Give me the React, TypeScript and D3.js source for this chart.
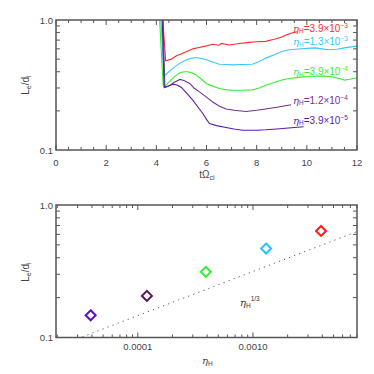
import React from "react";
import * as d3 from "d3";

// ---------- data ----------
const seriesNames = ["3.9×10", "1.3×10", "3.9×10", "1.2×10", "3.9×10"];
const seriesExp = ["−3", "−3", "−4", "−4", "−5"];
const seriesColors = ["#ff2a2a", "#33c8ff", "#33f033", "#74308e", "#5a1cb0"];
const diamondColors = ["#ff1a1a", "#22c4ff", "#30ee30", "#581458", "#5a10c0"];

const redT = [4.22, 4.37, 4.6, 4.8, 5.1, 5.46, 5.7, 5.92, 6.25, 6.5, 6.6, 6.9, 7.3, 7.7, 8.0, 8.36, 8.7, 9.0, 9.2, 9.4, 9.6];
const redL = [1.3, 0.485, 0.5, 0.53, 0.56, 0.6, 0.615, 0.627, 0.65, 0.64, 0.66, 0.643, 0.66, 0.673, 0.68, 0.685, 0.71, 0.74, 0.77, 0.795, 0.81];

const cyanT = [4.15, 4.31, 4.5, 4.67, 4.9, 5.2, 5.4, 5.59, 5.8, 5.99, 6.25, 6.51, 6.8, 7.04, 7.4, 7.83, 8.1, 8.36, 8.7, 9.0, 9.3, 9.68, 10.0, 10.34, 10.6, 10.87, 11.2, 11.5, 11.9, 12];
const cyanL = [1.3, 0.371, 0.4, 0.426, 0.46, 0.494, 0.508, 0.515, 0.505, 0.494, 0.475, 0.457, 0.455, 0.452, 0.455, 0.457, 0.48, 0.509, 0.54, 0.573, 0.59, 0.598, 0.605, 0.61, 0.6, 0.59, 0.595, 0.61, 0.627, 0.63];

const greenT = [4.1, 4.27, 4.35, 4.54, 4.75, 4.94, 5.1, 5.26, 5.4, 5.59, 5.8, 5.99, 6.25, 6.51, 6.8, 7.04, 7.4, 7.83, 8.1, 8.36, 8.7, 9.0, 9.3, 9.68, 10.0, 10.34, 10.7, 11.0, 11.3, 11.5, 11.7, 12];
const greenL = [1.3, 0.315, 0.31, 0.339, 0.37, 0.393, 0.4, 0.4, 0.392, 0.377, 0.35, 0.325, 0.31, 0.297, 0.29, 0.288, 0.288, 0.29, 0.3, 0.315, 0.33, 0.345, 0.355, 0.362, 0.368, 0.371, 0.37, 0.365, 0.355, 0.345, 0.35, 0.36];

const purpleT = [4.25, 4.34, 4.5, 4.7, 4.94, 5.1, 5.33, 5.5, 5.72, 6.0, 6.25, 6.5, 6.78, 7.1, 7.57, 8.0, 8.36, 8.8, 9.37];
const purpleL = [1.3, 0.303, 0.31, 0.33, 0.349, 0.343, 0.325, 0.3, 0.28, 0.255, 0.234, 0.218, 0.207, 0.202, 0.198, 0.202, 0.207, 0.213, 0.223];

const indigoT = [4.22, 4.31, 4.5, 4.67, 4.85, 5.0, 5.2, 5.46, 5.65, 5.86, 6.0, 6.12, 6.4, 6.78, 7.1, 7.44, 8.0, 8.36, 8.8, 9.15, 9.5, 9.87];
const indigoL = [1.3, 0.303, 0.312, 0.321, 0.315, 0.303, 0.275, 0.241, 0.215, 0.19, 0.172, 0.16, 0.154, 0.149, 0.145, 0.142, 0.142, 0.143, 0.145, 0.147, 0.149, 0.151];

const etaH = [3.9e-3, 1.3e-3, 3.9e-4, 1.2e-4, 3.9e-5];
const Lsteady = [0.637, 0.469, 0.313, 0.206, 0.147];

const fitEta = [3.3e-5, 8e-3];
const fitCoef = 3.15;

const topXTicks = [0, 2, 4, 6, 8, 10, 12];
const yTickLabels = ["0.1", "1.0"];
const botXTickVals = [1e-4, 1e-3];
const botXTickLabels = ["0.0001", "0.0010"];

// ---------- layout ----------
const L = 56, R = 357;
const topT = 20, topB = 150;
const botT = 205, botB = 337.5;
const axisColor = "#555";
const textColor = "#444";
const FONT = "'Liberation Sans', Arial, sans-serif";

const xTop = d3.scaleLinear().domain([0, 12]).range([L, R]);
const yTop = d3.scaleLog().domain([0.1, 1]).range([topB, topT]);
const xBot = d3.scaleLog().domain([1.95e-5, 8e-3]).range([L, R]);
const yBot = d3.scaleLog().domain([0.1, 1]).range([botB, botT]);

const curves = [
  { t: redT, v: redL },
  { t: cyanT, v: cyanL },
  { t: greenT, v: greenL },
  { t: purpleT, v: purpleL },
  { t: indigoT, v: indigoL },
];
const labelY = [31.5, 45, 75, 103.5, 123.5];

const yMinor = [0.2, 0.3, 0.4, 0.5, 0.6, 0.7, 0.8, 0.9];

function Box({ t, b }: { t: number; b: number }) {
  return <rect x={L} y={t} width={R - L} height={b - t} fill="none" stroke={axisColor} strokeWidth={1.5} />;
}

function YAxisTicks({ y, t, b }: { y: any; t: number; b: number }) {
  const items: any[] = [];
  yMinor.forEach((v, i) => {
    const yy = y(v);
    items.push(<line key={"l" + i} x1={L} x2={L + 4} y1={yy} y2={yy} stroke={axisColor} strokeWidth={1} />);
    items.push(<line key={"r" + i} x1={R} x2={R - 4} y1={yy} y2={yy} stroke={axisColor} strokeWidth={1} />);
  });
  [0.1, 1].forEach((v, i) => {
    items.push(
      <text key={"t" + i} x={L - 3} y={y(v) + 3.5} textAnchor="end" fontSize={9.5} fill={textColor} fontFamily={FONT}>
        {yTickLabels[i]}
      </text>
    );
  });
  return <g>{items}</g>;
}

function YLabel({ cy }: { cy: number }) {
  return (
    <text transform={`translate(29,${cy}) rotate(-90)`} textAnchor="middle" fontSize={10} fill={textColor} fontFamily={FONT}>
      L<tspan fontSize={7} dy={2}>e</tspan>
      <tspan dy={-2}>/d</tspan>
      <tspan fontSize={7} dy={2}>i</tspan>
    </text>
  );
}

function Eta({ x, y, color, children }: any) {
  return (
    <text x={x} y={y} fontSize={10} fill={color} fontFamily={FONT}>
      <tspan fontFamily="'DejaVu Serif', serif" fontStyle="italic">η</tspan>
      <tspan fontSize={6.5} dy={1.5}>H</tspan>
      {children}
    </text>
  );
}

export default function App() {
  const line = d3
    .line<[number, number]>()
    .x((d) => xTop(d[0]))
    .y((d) => yTop(d[1]));

  // top x ticks
  const topTicks: any[] = [];
  for (let k = 0; k <= 24; k++) {
    const v = k * 0.5;
    const major = k % 4 === 0;
    const len = major ? 5 : 3;
    const xx = xTop(v);
    topTicks.push(<line key={"b" + k} x1={xx} x2={xx} y1={topB} y2={topB - len} stroke={axisColor} strokeWidth={1} />);
    topTicks.push(<line key={"t" + k} x1={xx} x2={xx} y1={topT} y2={topT + len} stroke={axisColor} strokeWidth={1} />);
  }

  // bottom x ticks (log)
  const botTicks: any[] = [];
  const decades = [1e-5, 1e-4, 1e-3];
  decades.forEach((dec) => {
    for (let m = 1; m <= 9; m++) {
      const v = dec * m;
      if (v < 1.95e-5 || v > 8e-3) continue;
      const major = m === 1;
      const len = major ? 5 : 3;
      const xx = xBot(v);
      botTicks.push(<line key={"b" + v} x1={xx} x2={xx} y1={botB} y2={botB - len} stroke={axisColor} strokeWidth={1} />);
      botTicks.push(<line key={"t" + v} x1={xx} x2={xx} y1={botT} y2={botT + len} stroke={axisColor} strokeWidth={1} />);
    }
  });

  const fitPts: [number, number][] = d3.range(0, 41).map((i) => {
    const e = Math.exp(Math.log(fitEta[0]) + (i / 40) * (Math.log(fitEta[1]) - Math.log(fitEta[0])));
    return [e, fitCoef * Math.pow(e, 1 / 3)];
  });
  const fitLine = d3
    .line<[number, number]>()
    .x((d) => xBot(d[0]))
    .y((d) => yBot(d[1]));

  return (
    <svg width={374} height={374} style={{ position: "absolute", left: 0, top: 0, background: "#fff" }}>
      <defs>
        <clipPath id="clipTop">
          <rect x={L} y={topT} width={R - L} height={topB - topT} />
        </clipPath>
      </defs>

      {/* ---------- top panel ---------- */}
      <g clipPath="url(#clipTop)">
        {curves.map((c, i) => (
          <path
            key={i}
            d={line(c.t.map((t, j) => [t, c.v[j]] as [number, number])) || ""}
            fill="none"
            stroke={seriesColors[i]}
            strokeWidth={1.1}
          />
        ))}
      </g>
      {curves.map((c, i) => (
        <Eta key={"lab" + i} x={293} y={labelY[i]} color={seriesColors[i]}>
          <tspan dy={-1.5}>={seriesNames[i]}</tspan>
          <tspan fontSize={6.5} dy={-4}>{seriesExp[i]}</tspan>
        </Eta>
      ))}
      {topTicks}
      <YAxisTicks y={yTop} t={topT} b={topB} />
      <Box t={topT} b={topB} />
      {topXTicks.map((v) => (
        <text key={v} x={xTop(v)} y={166} textAnchor="middle" fontSize={9.5} fill={textColor} fontFamily={FONT}>
          {v}
        </text>
      ))}
      <text x={207} y={178} textAnchor="middle" fontSize={10} fill={textColor} fontFamily={FONT}>
        tΩ<tspan fontSize={7} dy={2}>ci</tspan>
      </text>
      <YLabel cy={85} />

      {/* ---------- bottom panel ---------- */}
      <path d={fitLine(fitPts) || ""} fill="none" stroke="#555" strokeWidth={1} strokeDasharray="1.2 4.2" />
      {etaH.map((e, i) => {
        const cx = xBot(e);
        const cy = yBot(Lsteady[i]);
        const s = 5;
        return (
          <path
            key={i}
            d={`M${cx},${cy - s}L${cx + s},${cy}L${cx},${cy + s}L${cx - s},${cy}Z`}
            fill="none"
            stroke={diamondColors[i]}
            strokeWidth={2}
          />
        );
      })}
      <Eta x={240} y={306} color="#333">
        <tspan fontSize={6.5} dy={-7}>1/3</tspan>
      </Eta>
      {botTicks}
      <YAxisTicks y={yBot} t={botT} b={botB} />
      <Box t={botT} b={botB} />
      {botXTickVals.map((v, i) => (
        <text key={i} x={xBot(v)} y={350} textAnchor="middle" fontSize={9.5} fill={textColor} fontFamily={FONT}>
          {botXTickLabels[i]}
        </text>
      ))}
      <Eta x={202} y={364} color={textColor} />
      <YLabel cy={272} />
    </svg>
  );
}
